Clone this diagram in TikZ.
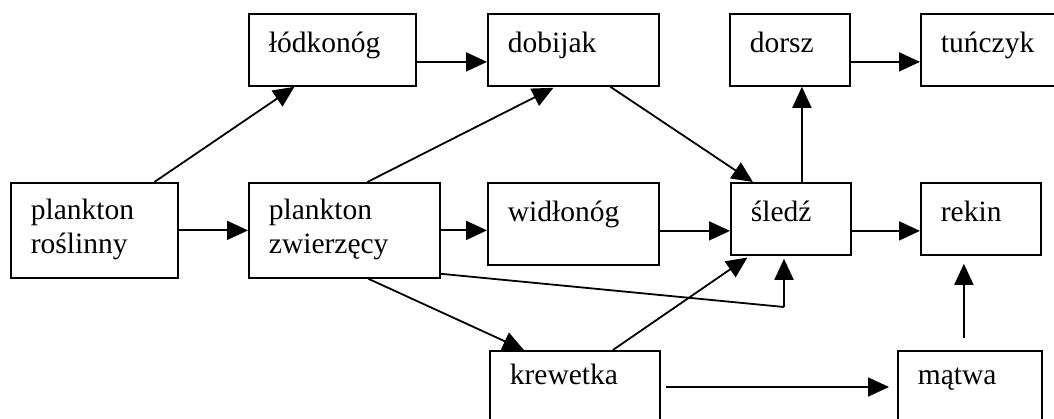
\documentclass[tikz,border=0pt]{standalone}
\usepackage{fontspec}
\setmainfont{Liberation Serif}
\usetikzlibrary{arrows.meta}

\tikzset{
  box/.style 2 args={draw, anchor=north west, inner xsep=20pt, inner ysep=0pt,
    align=left, text width=#1, text height=39pt, text depth=#2},
  >={Triangle[length=21pt,width=19pt]}
}

\begin{document}
\begin{tikzpicture}[x=1pt,y=-1pt,line width=1.8pt,
    font=\fontsize{29.5pt}{34pt}\selectfont]
    \useasboundingbox (0,0) rectangle (1054,419);
    \clip (0,0) rectangle (1054,419);

    % top row
    \node[box={127pt}{33pt}] (lod) at (248,13) {łódkonóg};
    \node[box={131pt}{33pt}] (dob) at (487,13) {dobijak};
    \node[box={80pt}{33pt}] (dor) at (729,13) {dorsz};
    \node[box={100pt}{33pt}] (tun) at (920,13) {tuńczyk};

    % middle row
    \node[box={127pt}{56pt}, text height=37pt, text depth=58pt] (pr) at (10,182) {plankton\\roślinny};
    \node[box={151pt}{56pt}, text height=37pt, text depth=58pt] (pz) at (248,182) {plankton\\zwierzęcy};
    \node[box={131pt}{43pt}] (wid) at (487,182) {widłonóg};
    \node[box={80pt}{33pt}] (sle) at (730,182) {śledź};
    \node[box={80pt}{33pt}] (rek) at (920,182) {rekin};

    % bottom row
    \node[box={130pt}{57pt}, text height=34pt] (kre) at (489,350) {krewetka};
    \node[box={104pt}{57pt}, text height=34pt] (mat) at (897,350) {mątwa};

    \draw[->] ([xshift=60pt]pr.north) -- ([xshift=-38pt]lod.south);
    \draw[->] ([yshift=-12pt]lod.east) -- ([yshift=-12pt]dob.west);
    \draw[->] ([yshift=-12pt]dor.east) -- ([yshift=-12pt]tun.west);
    \draw[->] ([xshift=23pt]pz.north) -- ([xshift=-20pt,yshift=-1pt]dob.south);
    \draw[->] ([xshift=37pt]dob.south) -- ([xshift=-38pt]sle.north);
    \draw[->] ([xshift=11pt]sle.north) -- ([xshift=11pt]sle.north |- dor.south);

    \draw[->] (pr.east) -- (pz.east -| pz.west);
    \draw[->] (pz.east) -- (pz.east -| wid.west);
    \draw[->] ([yshift=-7pt]wid.east) -- ([yshift=-7pt]wid.east -| sle.west);
    \draw[->] ([yshift=-12pt]sle.east) -- ([yshift=-12pt]sle.east -| rek.west);

    \coordinate (knee) at (784,307);
    \draw ([yshift=5pt]pz.south east) -- (knee);
    \draw[->, shorten >=3pt] (knee) -- (knee |- sle.south);

    \draw[->] ([xshift=24pt]pz.south) -- ([xshift=-51pt]kre.north);
    \draw[->, shorten >=3pt] ([xshift=38pt]kre.north) -- ([xshift=-41pt]sle.south);
    \draw[->] ([shift={(5pt,-37pt)}]kre.north east) -- ([shift={(-8pt,-37pt)}]mat.north west);

    \coordinate (mfoot) at ([shift={(-6pt,12pt)}]mat.north);
    \draw[->, shorten >=8pt] (mfoot) -- (mfoot |- rek.south);
\end{tikzpicture}
\end{document}
